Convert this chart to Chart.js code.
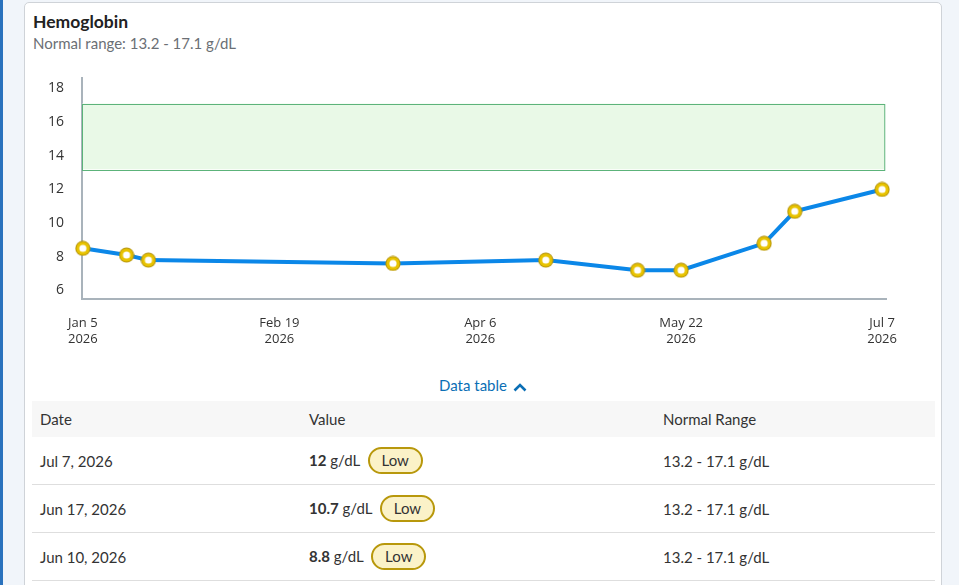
<!DOCTYPE html>
<html>
<head>
<meta charset="utf-8">
<script src="https://cdn.jsdelivr.net/npm/chart.js@4.4.1/dist/chart.umd.min.js"></script>
<style>
  html, body { margin: 0; padding: 0; }
  body {
    width: 959px; height: 585px; overflow: hidden;
    background: #f1f5fa;
    font-family: "Lato", "Noto Sans", sans-serif;
    color: #333;
    position: relative;
  }
  .stripe { position: absolute; left: 0; top: 0; width: 3px; height: 585px; background: #2a72bd; }
  .card {
    position: absolute; left: 24px; top: 2px; width: 918px; height: 600px;
    background: #fff; border: 1px solid #cfd3d8; border-radius: 5px;
    box-sizing: border-box;
  }
  .title { position: absolute; left: 8px; top: 8px; font-size: 17.5px; font-weight: bold; color: #222; }
  .sub { position: absolute; left: 8px; top: 31px; font-size: 15px; color: #6b6f75; }
  .chartBox { position: absolute; left: 8px; top: 57px; width: 876px; height: 299px; }
  .toggle { position: absolute; left: 0; width: 100%; top: 373px; text-align: center; font-size: 15px; color: #0b6fb5; }
  .toggle svg { vertical-align: -1px; margin-left: 6px; }
  table { position: absolute; left: 7px; top: 398px; width: 903px; border-collapse: collapse; font-size: 15px; }
  th { background: #f7f7f7; font-weight: normal; text-align: left; height: 36px; padding: 0 0 0 8px; color: #333; }
  td { height: 47px; border-bottom: 1.5px solid #dedede; padding: 0 0 0 8px; color: #333; }
  .badge {
    display: inline-block; margin-left: 4px; padding: 0 12px; height: 23px; line-height: 23px;
    background: #fbf2c8; border: 2px solid #b8980c; border-radius: 14px;
  }
</style>
</head>
<body>
<div class="stripe"></div>
<div class="card">
  <div class="title">Hemoglobin</div>
  <div class="sub">Normal range: 13.2 - 17.1 g/dL</div>
  <div class="chartBox"><canvas id="myChartCanvas1"></canvas></div>
  <div class="toggle">Data table<svg width="14" height="10" viewBox="0 0 14 10"><path d="M1.5 8.5 L7 3 L12.5 8.5" stroke="#0b6fb5" stroke-width="2.6" fill="none"/></svg></div>
  <table>
    <thead><tr><th style="width:261px">Date</th><th style="width:346px">Value</th><th>Normal Range</th></tr></thead>
    <tbody id="rows"></tbody>
  </table>
</div>
<script>
const dates = ['2026-01-05', '2026-01-15', '2026-01-20', '2026-03-17', '2026-04-21', '2026-05-12', '2026-05-22', '2026-06-10', '2026-06-17', '2026-07-07'];
const values = [8.5, 8.1, 7.8, 7.6, 7.8, 7.2, 7.2, 8.8, 10.7, 12];
const tableDates = ['Jul 7, 2026', 'Jun 17, 2026', 'Jun 10, 2026'];
const tableValues = [12, 10.7, 8.8];
const tickDates = ['2026-01-05', '2026-02-19', '2026-04-06', '2026-05-22', '2026-07-07'];
const tickLabels = [['Jan 5', '2026'], ['Feb 19', '2026'], ['Apr 6', '2026'], ['May 22', '2026'], ['Jul 7', '2026']];
const yTicks = [6, 8, 10, 12, 14, 16, 18];
const normalLow = 13.2;
const normalHigh = 17.1;

// dias desde a primeira data
const start = Date.UTC(2026, 0, 5);
function dayOf(s) {
    const p = s.split('-');
    return (Date.UTC(+p[0], +p[1] - 1, +p[2]) - start) / 86400000;
}
const tickDays = tickDates.map(dayOf);

// tabela
let html = '';
for (let i = 0; i < tableDates.length; i++) {
    html += '<tr><td>' + tableDates[i] + '</td><td><b>' + tableValues[i] + '</b> g/dL <span class="badge">Low</span></td><td>' + normalLow + ' - ' + normalHigh + ' g/dL</td></tr>';
}
document.getElementById('rows').innerHTML = html;

// marcador: anel amarelo com centro branco
const ring = document.createElement('canvas');
ring.width = 16;
ring.height = 16;
const rc = ring.getContext('2d');
rc.fillStyle = '#b3920a';
rc.beginPath(); rc.arc(8, 8, 7.6, 0, Math.PI * 2); rc.fill();
rc.fillStyle = '#e8c300';
rc.beginPath(); rc.arc(8, 8, 6.6, 0, Math.PI * 2); rc.fill();
rc.fillStyle = '#fff';
rc.beginPath(); rc.arc(8, 8, 3.6, 0, Math.PI * 2); rc.fill();

// faixa normal (verde)
const normalBand = {
    id: 'normalBand',
    beforeDatasetsDraw(chart) {
        const x = chart.scales.x, y = chart.scales.y, ctx = chart.ctx;
        const left = x.left;
        const right = x.getPixelForValue(183.5);
        const top = y.getPixelForValue(normalHigh);
        const bottom = y.getPixelForValue(normalLow);
        ctx.save();
        ctx.fillStyle = '#e9f9e7';
        ctx.fillRect(left, top, right - left, bottom - top);
        ctx.strokeStyle = '#5cb37a';
        ctx.lineWidth = 1;
        ctx.strokeRect(left + 0.5, Math.round(top) + 0.5, right - left, Math.round(bottom - top));
        ctx.restore();
    }
};

const dados = {
    datasets: [{
        data: dates.map((d, i) => ({ x: dayOf(d), y: values[i] })),
        borderColor: '#0b87e8',
        borderWidth: 4,
        pointStyle: ring,
        pointRadius: 8,
        pointHoverRadius: 8,
        clip: false,
        tension: 0
    }]
};

const config = {
    type: 'line',
    data: dados,
    plugins: [normalBand],
    options: {
        responsive: true,
        maintainAspectRatio: false,
        animation: false,
        layout: { padding: { top: 0, right: 0, left: 0, bottom: 0 } },
        scales: {
            x: {
                type: 'linear',
                min: -0.2,
                max: 184,
                afterBuildTicks: (s) => { s.ticks = tickDays.map(v => ({ value: v })); },
                ticks: {
                    autoSkip: false,
                    maxRotation: 0,
                    color: '#333',
                    padding: 12,
                    font: { family: 'Open Sans', size: 13 },
                    callback: (v) => tickLabels[tickDays.indexOf(v)]
                },
                grid: { display: false, drawTicks: true, tickLength: 5, tickColor: '#9aa4ad' },
                border: { color: '#a9b3bb', width: 2 }
            },
            y: {
                min: 5.5,
                max: 18.6,
                afterBuildTicks: (s) => { s.ticks = yTicks.map(v => ({ value: v })); },
                afterFit: (s) => { s.width = 49; },
                ticks: {
                    color: '#333',
                    padding: 10,
                    font: { family: 'Open Sans', size: 14 }
                },
                grid: { display: false },
                border: { color: '#a9b3bb', width: 2 }
            }
        },
        plugins: {
            legend: { display: false },
            tooltip: { enabled: false }
        }
    }
};

new Chart(document.getElementById('myChartCanvas1'), config);
</script>
</body>
</html>
